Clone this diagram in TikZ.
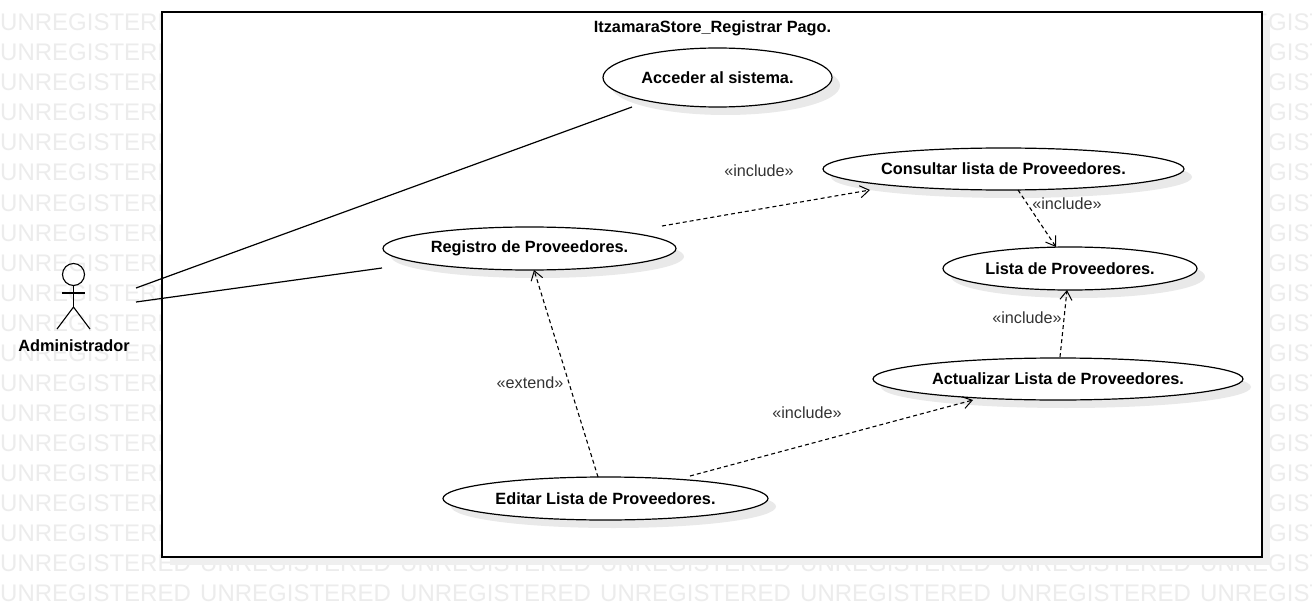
\documentclass[tikz,border=0pt]{standalone}
\usepackage{fontspec}
\setmainfont{Liberation Sans}
\usetikzlibrary{shapes.geometric,arrows.meta,calc}
\definecolor{wm}{HTML}{ECECEC}
\definecolor{shade}{HTML}{E9E9E9}
\definecolor{frameshade}{HTML}{EFEFEF}
\definecolor{lbl}{HTML}{333333}
\tikzset{
  wmark/.style={text=wm,font=\fontsize{24}{26}\selectfont,anchor=base west,inner sep=0pt},
  uc/.style={ellipse,draw=black,fill=white,line width=1.2pt,inner sep=0pt,outer sep=0pt,font=\fontsize{16.3}{18}\selectfont\bfseries},
  ucshadow/.style={ellipse,fill=shade,inner sep=0pt,outer sep=0pt},
  title/.style={font=\fontsize{16.3}{18}\selectfont\bfseries,inner sep=0pt},
  stereo/.style={text=lbl,font=\fontsize{16.2}{18}\selectfont,inner sep=0pt},
  assoc/.style={draw=black,line width=1.2pt},
  dep/.style={draw=black,line width=1.1pt,dash pattern=on 4pt off 3pt,-{Straight Barb[length=9pt,width=12pt,line width=1pt]}},
  actorline/.style={draw=black,line width=1.1pt}
}
\begin{document}
\begin{tikzpicture}[x=1pt,y=-1pt]
\clip (0,0) rectangle (1312,607);
\fill[white] (0,0) rectangle (1312,607);
% watermark
\foreach \r in {0,...,19}{
  \foreach \c in {0,...,6}{
    \node[wmark] (wm\r-\c) at ({200*\c},{31+30*\r}) {UNREGISTERED};
  }
}
% frame
\fill[frameshade] (170,20) rectangle (1270,565);
\node[draw=black,fill=white,line width=1.2pt,minimum width=1100pt,minimum height=545pt,inner sep=0pt,outer sep=0pt] (frame) at (712,284.5) {};
\node[title] (ttl) at (712.5,28) {ItzamaraStore\_Registrar Pago.};
% shadows
\node[ucshadow,minimum width=229pt,minimum height=59pt] (s1) at (725.5,85.5) {};
\node[ucshadow,minimum width=361pt,minimum height=42pt] (s2) at (1011.5,177) {};
\node[ucshadow,minimum width=293pt,minimum height=43pt] (s3) at (537.5,256.5) {};
\node[ucshadow,minimum width=254pt,minimum height=43pt] (s4) at (1078,276.5) {};
\node[ucshadow,minimum width=370pt,minimum height=42pt] (s5) at (1066,387) {};
\node[ucshadow,minimum width=325pt,minimum height=43pt] (s6) at (613.5,506.5) {};
% use cases
\node[uc,minimum width=229pt,minimum height=59pt] (acc) at (717.5,77.5) {Acceder al sistema.};
\node[uc,minimum width=361pt,minimum height=42pt] (con) at (1003.5,169) {Consultar lista de Proveedores.};
\node[uc,minimum width=293pt,minimum height=43pt] (reg) at (529.5,248.5) {Registro de Proveedores.};
\node[uc,minimum width=254pt,minimum height=43pt] (lis) at (1070,268.5) {Lista de Proveedores.};
\node[uc,minimum width=370pt,minimum height=42pt] (act) at (1058,379) {Actualizar Lista de Proveedores.};
\node[uc,minimum width=325pt,minimum height=43pt] (edi) at (605.5,498.5) {Editar Lista de Proveedores.};
% actor
\node[circle,draw=black,line width=1.1pt,minimum size=22pt,inner sep=0pt,outer sep=0pt] (head) at (73.5,274.5) {};
\coordinate (hip) at (73.5,307);
\coordinate (armL) at (62,293);
\coordinate (armR) at (85,293);
\coordinate (legL) at (57,329);
\coordinate (legR) at (90,329);
\draw[actorline] (head.south) -- (hip);
\draw[actorline] (armL) -- (armR);
\draw[actorline] (legL) -- (hip) -- (legR);
\node[title] (adm) at (74,345.5) {Administrador};
% connector ports
\coordinate (actA) at ($(head.center)+(62.5,13.5)$);
\coordinate (actB) at ($(head.center)+(62.5,27.5)$);
\coordinate (accP) at ($(acc.center)+(-85.5,29.5)$);
\coordinate (regP) at ($(reg.center)+(-147.5,19.5)$);
\coordinate (regOut) at ($(reg.center)+(132.5,-22.5)$);
\coordinate (conIn) at ($(con.center)+(-133.5,21)$);
\coordinate (conOut) at ($(con.center)+(14.5,21)$);
\coordinate (lisIn) at ($(lis.center)+(-14,-21.5)$);
\coordinate (lisIn2) at ($(lis.center)+(-3,21.5)$);
\coordinate (actOut) at ($(act.center)+(2,-22)$);
\coordinate (actIn) at ($(act.center)+(-85,21)$);
\coordinate (ediOut) at ($(edi.center)+(84.5,-22.5)$);
\coordinate (ediOut2) at ($(edi.center)+(-7.5,-21.5)$);
\coordinate (regIn) at ($(reg.center)+(4.5,21.5)$);
% connectors
\draw[assoc] (actA) -- (accP);
\draw[assoc] (actB) -- (regP);
\draw[dep] (regOut) -- (conIn);
\draw[dep] (conOut) -- (lisIn);
\draw[dep] (actOut) -- (lisIn2);
\draw[dep] (ediOut) -- (actIn);
\draw[dep] (ediOut2) -- (regIn);
% labels
\node[stereo] (l1) at (759,171) {«include»};
\node[stereo] (l2) at (1067,204) {«include»};
\node[stereo] (l3) at (1027,318) {«include»};
\node[stereo] (l4) at (807,413) {«include»};
\node[stereo] (l5) at (530,383) {«extend»};
\end{tikzpicture}
\end{document}
